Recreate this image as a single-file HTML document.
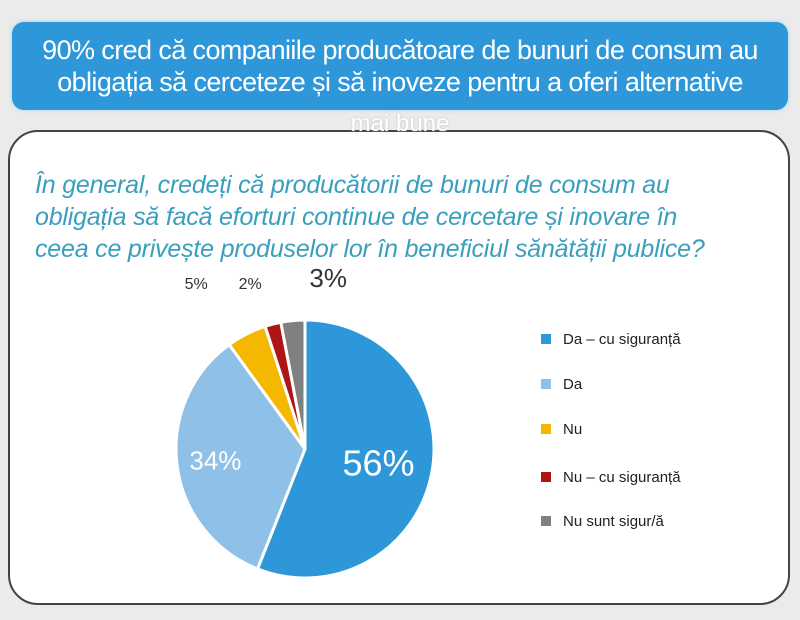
<!DOCTYPE html>
<html><head><meta charset="utf-8"><style>
body{margin:0;width:800px;height:620px;background:#ebebeb;font-family:"Liberation Sans",sans-serif;position:relative;overflow:hidden}
#hdr{position:absolute;left:12px;top:22px;width:776px;height:88px;background:#2e97d9;border-radius:12px;box-shadow:0 0 4px #9fd4f5;color:#fff;font-size:27px;text-align:center;line-height:32px;padding-top:12px;box-sizing:border-box;letter-spacing:-0.6px;white-space:nowrap}
#card{position:absolute;left:8px;top:130px;width:782px;height:475px;background:#fff;border:2px solid #444;border-radius:30px;box-sizing:border-box}
#mai{position:absolute;left:0;width:800px;top:110px;text-align:center;color:#fff;font-size:24px;text-shadow:0 0 2px #bbb}
#q{position:absolute;left:35px;top:169px;color:#3a9fbe;font-style:italic;font-size:25px;line-height:32px;letter-spacing:-0.2px;white-space:nowrap}
.lg{position:absolute;left:541px;font-size:15px;color:#222}
.lg span{display:inline-block;width:10px;height:10px;margin-right:12px;vertical-align:0}
</style></head><body>
<div id="hdr">90% cred că companiile producătoare de bunuri de consum au<br>obligația să cerceteze și să inoveze pentru a oferi alternative</div>
<div id="card"></div>
<div id="mai">mai bune</div>
<div id="q">În general, credeți că producătorii de bunuri de consum au<br>obligația să facă eforturi continue de cercetare și inovare în<br>ceea ce privește produselor lor în beneficiul sănătății publice?</div>
<svg id="pie" width="800" height="620" style="position:absolute;left:0;top:0"></svg>
<div class="lg" style="top:331px"><span style="background:#2e97d9"></span>Da – cu siguranță</div>
<div class="lg" style="top:376px"><span style="background:#8fc1e8"></span>Da</div>
<div class="lg" style="top:421px"><span style="background:#f5b800"></span>Nu</div>
<div class="lg" style="top:469px"><span style="background:#b01515"></span>Nu – cu siguranță</div>
<div class="lg" style="top:513px"><span style="background:#808080"></span>Nu sunt sigur/ă</div>
<script>
const categories=["Da – cu siguranță","Da","Nu","Nu – cu siguranță","Nu sunt sigur/ă"];
const values=[56,34,5,2,3];
const labels=["56%","34%","5%","2%","3%"];
const colors=["#2e97d9","#8fc1e8","#f5b800","#b01515","#808080"];
const svg=document.getElementById('pie');const NS='http://www.w3.org/2000/svg';
const cx=305,cy=449,r=129;const total=values.reduce((a,b)=>a+b,0);
let a0=0;
// label style: [radius factor, mode, font size, colour, x-offset for outside labels]
const labelStyle=[[0.58,'in',36,'#fff',0],[0.7,'in',26,'#fff',0],[0,'out',16,'#333',-100],[0,'out',16,'#333',-50],[0,'out',26,'#333',25]];
values.forEach((v,i)=>{
 const a1=a0+v/total*2*Math.PI;
 const p=(a)=>[cx+r*Math.sin(a),cy-r*Math.cos(a)];
 const [x0,y0]=p(a0),[x1,y1]=p(a1);
 const path=document.createElementNS(NS,'path');
 path.setAttribute('d',`M${cx},${cy}L${x0},${y0}A${r},${r} 0 ${a1-a0>Math.PI?1:0} 1 ${x1},${y1}Z`);
 path.setAttribute('fill',colors[i]);path.setAttribute('stroke','#fff');path.setAttribute('stroke-width','3');
 
 
 svg.appendChild(path);
 const am=(a0+a1)/2;const ls=labelStyle[i];
 let lx,ly;
 if(ls[1]==='in'){lx=cx+r*ls[0]*Math.sin(am);ly=cy-r*ls[0]*Math.cos(am)+ls[2]*0.35;}
 else{ly=cy-r-33+(ls[2]>20?0:2);lx=cx+ls[4]+r*0.15*Math.sin(am);}
 const t=document.createElementNS(NS,'text');
 t.setAttribute('x',lx);t.setAttribute('y',ly);t.setAttribute('text-anchor','middle');
 t.setAttribute('font-size',ls[2]);t.setAttribute('fill',ls[3]);t.setAttribute('font-family','Liberation Sans, sans-serif');
 t.textContent=labels[i];
 
 
 svg.appendChild(t);
 a0=a1;
});
</script>
</body></html>
